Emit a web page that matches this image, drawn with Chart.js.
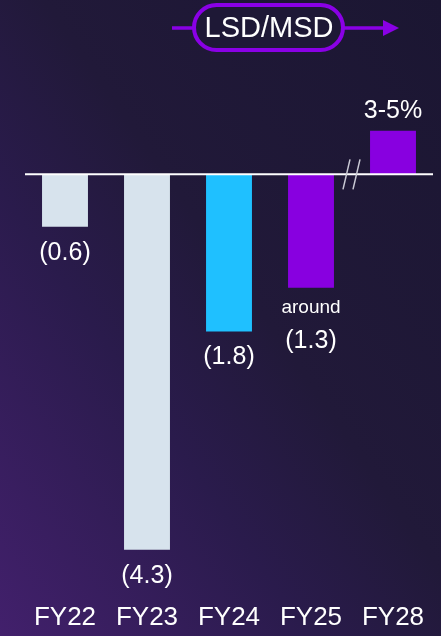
<!DOCTYPE html>
<html>
<head>
<meta charset="utf-8">
<script src="https://cdn.jsdelivr.net/npm/chart.js@4"></script>
<style>
    html, body {
        margin: 0;
        padding: 0;
        width: 441px;
        height: 636px;
        overflow: hidden;
    }
    body {
        background: linear-gradient(to top right, #42206c 0%, #2a1b4c 35%, #211939 55%, #1b1632 100%);
    }
    canvas {
        display: block;
    }
</style>
</head>
<body>
<canvas id="lsdChart" width="441" height="636"></canvas>
<script>
// fiscal years and growth values (negatives shown in brackets)
var years = ['FY22', 'FY23', 'FY24', 'FY25', 'FY28'];
var growth = [-0.6, -4.3, -1.8, -1.3, 0.5];
var valueLabels = ['(0.6)', '(4.3)', '(1.8)', '(1.3)', '3-5%'];
var valueNotes = ['', '', '', 'around', ''];
var barColors = ['#d7e3ed', '#d7e3ed', '#1fc0ff', '#8800e0', '#8800e0'];

var FONT = "'Liberation Sans', Arial, sans-serif";
var PURPLE = '#8a00e6';

var Overlay = {
    id: 'overlay',
    afterDatasetsDraw: function (chart) {
        let ctx = chart.ctx;
        let x = chart.scales.x;
        let y = chart.scales.y;
        let zero = y.getPixelForValue(0);

        ctx.save();

        // zero line
        ctx.strokeStyle = '#ffffff';
        ctx.lineWidth = 2;
        ctx.beginPath();
        ctx.moveTo(25, zero);
        ctx.lineTo(433, zero);
        ctx.stroke();

        // axis break between FY25 and FY28
        let mid = x.getPixelForValue(3.5);
        ctx.strokeStyle = '#c9c9d4';
        ctx.lineWidth = 1.5;
        [-5, 5].forEach(function (dx) {
            ctx.beginPath();
            ctx.moveTo(mid + dx - 4, zero + 15);
            ctx.lineTo(mid + dx + 3, zero - 15);
            ctx.stroke();
        });

        ctx.fillStyle = '#ffffff';
        ctx.textAlign = 'center';
        ctx.textBaseline = 'middle';

        // value labels
        for (let i = 0; i < growth.length; i++) {
            let cx = x.getPixelForValue(i);
            let end = y.getPixelForValue(growth[i]);
            if (growth[i] >= 0) {
                ctx.font = '25px ' + FONT;
                ctx.fillText(valueLabels[i], cx, end - 20);
            } else if (valueNotes[i]) {
                ctx.font = '19px ' + FONT;
                ctx.fillText(valueNotes[i], cx, end + 20);
                ctx.font = '25px ' + FONT;
                ctx.fillText(valueLabels[i], cx, end + 53);
            } else {
                ctx.font = '25px ' + FONT;
                ctx.fillText(valueLabels[i], cx, end + 26);
            }
        }

        // year labels along the bottom
        ctx.font = '26px ' + FONT;
        for (let i = 0; i < years.length; i++) {
            ctx.fillText(years[i], x.getPixelForValue(i), 618);
        }

        // LSD/MSD arrow with pill
        ctx.strokeStyle = PURPLE;
        ctx.fillStyle = PURPLE;
        ctx.lineWidth = 3.5;
        ctx.beginPath();
        ctx.moveTo(172, 28);
        ctx.lineTo(385, 28);
        ctx.stroke();
        ctx.beginPath();
        ctx.moveTo(383, 20);
        ctx.lineTo(399, 28);
        ctx.lineTo(383, 36);
        ctx.closePath();
        ctx.fill();

        ctx.fillStyle = '#1e1836';
        ctx.beginPath();
        ctx.roundRect(194, 5, 149, 45, 22.5);
        ctx.fill();
        ctx.lineWidth = 4;
        ctx.stroke();

        ctx.fillStyle = '#ffffff';
        ctx.font = '29px ' + FONT;
        ctx.fillText('LSD/MSD', 269, 29);

        ctx.restore();
    }
};

var chart = new Chart(document.getElementById('lsdChart'), {
    type: 'bar',
    data: {
        labels: years,
        datasets: [{
            data: growth,
            backgroundColor: barColors,
            borderWidth: 0,
            categoryPercentage: 1,
            barPercentage: 0.56
        }]
    },
    options: {
        responsive: false,
        animation: false,
        devicePixelRatio: 1,
        layout: {
            padding: {top: 87, left: 24, right: 7, bottom: 60}
        },
        plugins: {
            legend: {display: false},
            tooltip: {enabled: false}
        },
        scales: {
            x: {
                display: false
            },
            y: {
                display: false,
                min: -4.6,
                max: 1.0
            }
        }
    },
    plugins: [Overlay]
});
</script>
</body>
</html>
